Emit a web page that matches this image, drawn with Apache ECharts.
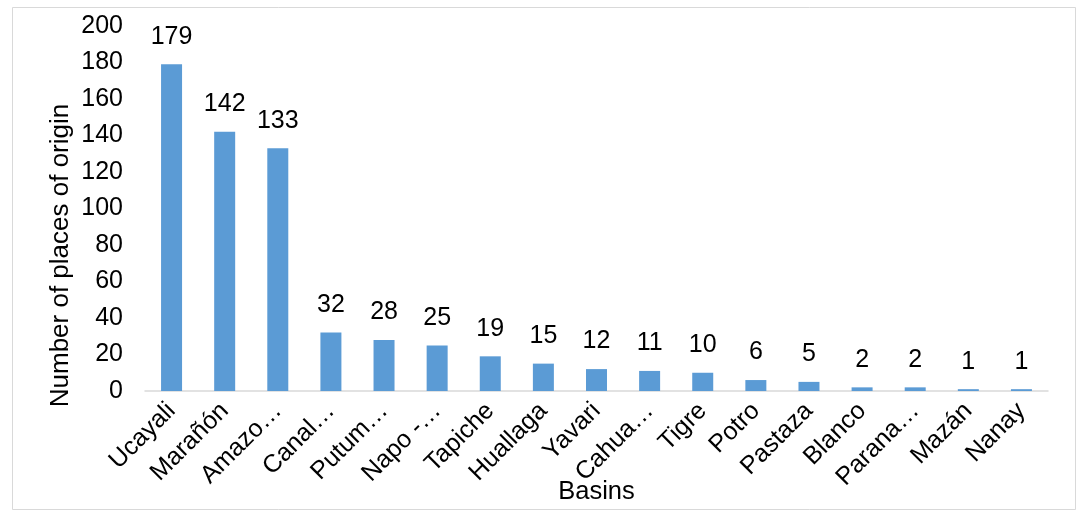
<!DOCTYPE html>
<html>
<head>
<meta charset="utf-8">
<script src="https://cdn.jsdelivr.net/npm/echarts@6/dist/echarts.min.js"></script>
<style>
html,body{margin:0;padding:0;background:#fff;}
#chart{width:1082px;height:516px;}
</style>
</head>
<body>
<div id="chart"></div>
<script>
const categories = ["Ucayali","Marañón","Amazo…","Canal…","Putum…","Napo -…","Tapiche","Huallaga","Yavari","Cahua…","Tigre","Potro","Pastaza","Blanco","Parana…","Mazán","Nanay"];
const values = [179,142,133,32,28,25,19,15,12,11,10,6,5,2,2,1,1];
const yTicks = {min:0, max:200, interval:20};
const xName = "Basins";
const yName = "Number of places of origin";

const FONT = "'Liberation Sans', Arial, sans-serif";
const FS = 25;
const chart = echarts.init(document.getElementById('chart'), null, {renderer:'canvas'});
chart.setOption({
  backgroundColor:'#ffffff',
  animation:false,
  graphic:[{type:'rect', shape:{x:12.5,y:7.5,width:1063,height:502}, style:{fill:'none', stroke:'#d9d9d9', lineWidth:1}, silent:true, z:-1}],
  grid:{left:145, right:34, top:26, bottom:125, containLabel:false, outerBoundsMode:'none'},
  xAxis:{
    type:'category', data:categories,
    name:xName, nameLocation:'middle', nameGap:88, nameMoveOverlap:false,
    nameTextStyle:{fontFamily:FONT, fontSize:25.5, color:'#000'},
    axisLine:{lineStyle:{color:'#d9d9d9', width:1.5}},
    axisTick:{show:false},
    axisLabel:{rotate:45, interval:0, fontFamily:FONT, fontSize:FS, color:'#000', margin:16}
  },
  yAxis:{
    type:'value', min:yTicks.min, max:yTicks.max, interval:yTicks.interval,
    name:yName, nameLocation:'middle', nameGap:71, nameMoveOverlap:false,
    nameTextStyle:{fontFamily:FONT, fontSize:26, color:'#000', padding:[0,94,0,0]},
    axisLine:{show:false}, axisTick:{show:false}, splitLine:{show:false},
    axisLabel:{fontFamily:FONT, fontSize:FS, color:'#000', margin:22}
  },
  series:[{
    type:'bar', data:values, barWidth:21,
    itemStyle:{color:'#5b9bd5'},
    label:{show:true, position:'top', distance:15, fontFamily:FONT, fontSize:FS, color:'#000'}
  }]
});
</script>
</body>
</html>
